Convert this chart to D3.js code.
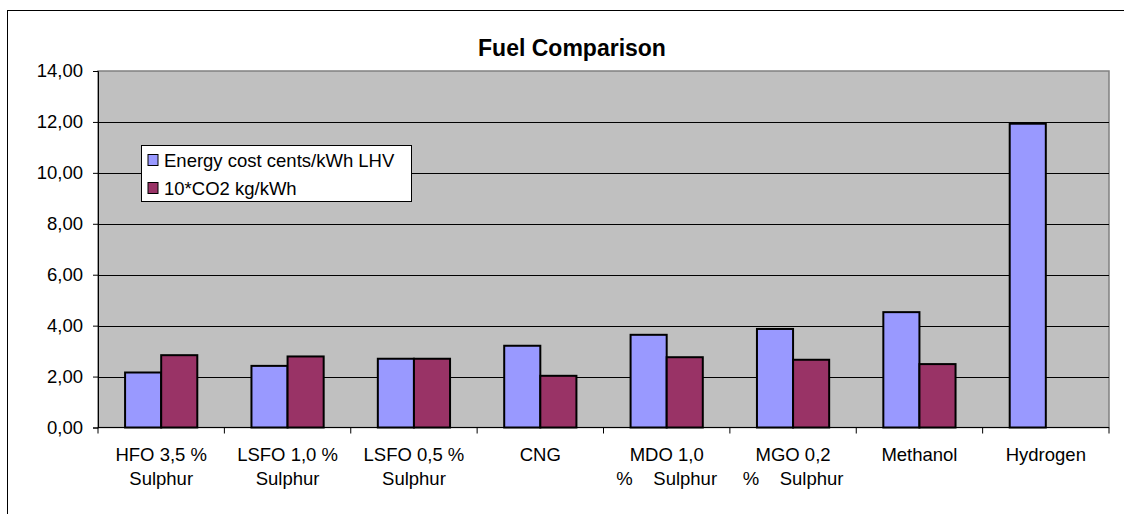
<!DOCTYPE html>
<html>
<head>
<meta charset="utf-8">
<script src="https://cdn.jsdelivr.net/npm/d3@7"></script>
<style>
  html, body { margin: 0; padding: 0; background: #fff; }
  svg { display: block; font-family: "Liberation Sans", Arial, sans-serif; }
</style>
</head>
<body>
<svg id="chart" width="1124" height="514"></svg>
<script>
const categories = [
  ["HFO 3,5 %", "Sulphur"],
  ["LSFO 1,0 %", "Sulphur"],
  ["LSFO 0,5 %", "Sulphur"],
  ["CNG"],
  ["MDO 1,0", "%    Sulphur"],
  ["MGO 0,2", "%    Sulphur"],
  ["Methanol"],
  ["Hydrogen"]
];
const seriesNames = ["Energy cost cents/kWh LHV", "10*CO2 kg/kWh"];
const energyCost = [2.16, 2.42, 2.70, 3.21, 3.64, 3.87, 4.53, 11.93];
const co2 = [2.84, 2.79, 2.70, 2.03, 2.76, 2.66, 2.49, null];
const yTicks = [0, 2, 4, 6, 8, 10, 12, 14];
const title = "Fuel Comparison";
const colors = ["#9999FF", "#993366"];

const svg = d3.select("#chart");
const plot = { left: 98, right: 1109, top: 71, bottom: 427.5 };

// outer chart border (right/bottom clipped)
svg.append("rect").attr("x", 7.5).attr("y", 10.5).attr("width", 1200).attr("height", 600)
  .attr("fill", "#fff").attr("stroke", "#000").attr("stroke-width", 1);

const idx = d3.range(categories.length);
const x0 = d3.scaleBand().domain(idx).range([plot.left, plot.right]).paddingInner(0).paddingOuter(0);
const x1 = d3.scaleBand().domain([0, 1]).range([0, x0.bandwidth()]).paddingInner(0).paddingOuter(0.75);
const y = d3.scaleLinear().domain([0, 14]).range([plot.bottom, plot.top]);

// plot background
svg.append("rect").attr("x", plot.left).attr("y", plot.top)
  .attr("width", plot.right - plot.left).attr("height", plot.bottom - plot.top)
  .attr("fill", "#C0C0C0").attr("stroke", "#808080").attr("stroke-width", 1.5);

// gridlines
svg.append("g").selectAll("line").data(yTicks.filter(d => d > 0 && d < 14)).join("line")
  .attr("x1", plot.left).attr("x2", plot.right)
  .attr("y1", d => Math.round(y(d)) + 0.5).attr("y2", d => Math.round(y(d)) + 0.5)
  .attr("stroke", "#000").attr("stroke-width", 1);

// title
svg.append("text").attr("x", 572).attr("y", 56).attr("text-anchor", "middle")
  .attr("font-size", 23).attr("font-weight", "bold").attr("fill", "#000").text(title);

// bars
const series = [energyCost, co2];
series.forEach((vals, s) => {
  svg.append("g").selectAll("rect").data(vals.map((v, i) => ({ v, i })).filter(d => d.v != null)).join("rect")
    .attr("x", d => x0(d.i) + x1(s))
    .attr("y", d => y(d.v))
    .attr("width", x1.bandwidth())
    .attr("height", d => y(0) - y(d.v))
    .attr("fill", colors[s]).attr("stroke", "#000").attr("stroke-width", 2);
});

// y axis
const yAxis = d3.axisLeft(y).tickValues(yTicks).tickSize(5).tickPadding(10)
  .tickFormat(d => d3.format(".2f")(d).replace(".", ","));
const gy = svg.append("g").attr("transform", `translate(${plot.left},0)`).call(yAxis);
gy.select(".domain").attr("stroke", "#000");
gy.selectAll(".tick line").attr("stroke", "#000");
gy.selectAll("text").attr("font-size", 18.5).attr("fill", "#000").attr("font-family", "Liberation Sans, Arial, sans-serif");

// x axis
const gx = svg.append("g").attr("transform", `translate(0,${plot.bottom})`);
gx.append("line").attr("x1", plot.left).attr("x2", plot.right).attr("y1", 0).attr("y2", 0).attr("stroke", "#000");
const xb = d3.range(categories.length + 1).map(i => plot.left + i * x0.step());
gx.selectAll("line.tk").data(xb).join("line").attr("class", "tk")
  .attr("x1", d => d).attr("x2", d => d).attr("y1", 0).attr("y2", 6).attr("stroke", "#000");
const lbl = gx.selectAll("text").data(idx).join("text")
  .attr("text-anchor", "middle").attr("font-size", 18.5).attr("fill", "#000")
  .attr("xml:space", "preserve").style("white-space", "pre");
lbl.each(function (i) {
  const t = d3.select(this);
  categories[i].forEach((line, k) => {
    t.append("tspan").attr("x", x0(i) + x0.bandwidth() / 2).attr("y", 33 + k * 24.5).text(line);
  });
});

// legend
const lg = svg.append("g");
lg.append("rect").attr("x", 141.5).attr("y", 145.5).attr("width", 270).attr("height", 56)
  .attr("fill", "#fff").attr("stroke", "#000").attr("stroke-width", 1);
seriesNames.forEach((n, k) => {
  const cy = 160 + k * 28;
  lg.append("rect").attr("x", 148).attr("y", cy - 5.5).attr("width", 10).attr("height", 11)
    .attr("fill", colors[k]).attr("stroke", "#000").attr("stroke-width", 1);
  lg.append("text").attr("x", 164).attr("y", cy + 6.5).attr("font-size", 18.5).attr("fill", "#000").text(n);
});
</script>
</body>
</html>
